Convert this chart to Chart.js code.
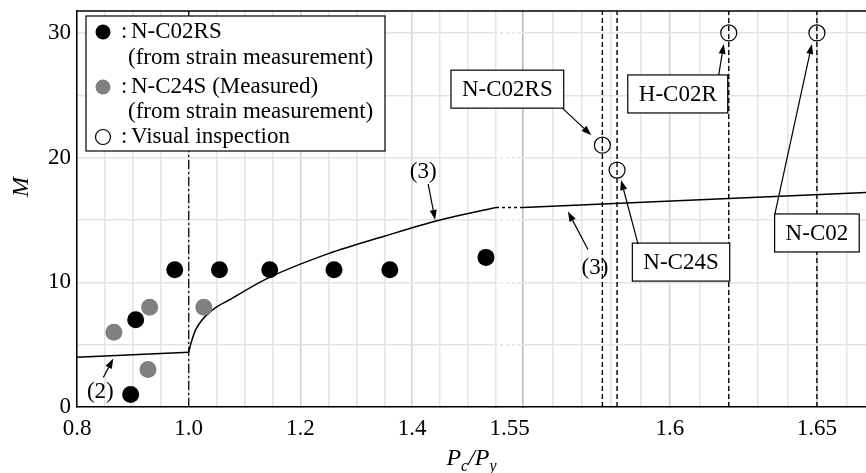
<!DOCTYPE html>
<html>
<head>
<meta charset="utf-8">
<script src="https://cdn.jsdelivr.net/npm/chart.js@4.4.1/dist/chart.umd.min.js"></script>
<style>
  html, body { margin: 0; padding: 0; background: #fff; }
  #wrap { width: 866px; height: 473px; }
</style>
</head>
<body>
<div id="wrap"><canvas id="chart" width="866" height="473"></canvas></div>
<script>
const SERIF = '"Liberation Serif", "Times New Roman", Times, serif';

// broken x axis: left part 0.8-1.55, right part 1.55-1.667
const gridA = [0.8, 0.85, 0.9, 0.95, 1.0, 1.05, 1.1, 1.15, 1.2, 1.25, 1.3, 1.35, 1.4, 1.45, 1.5, 1.55];
const gridB = [1.55, 1.56, 1.57, 1.58, 1.59, 1.6, 1.61, 1.62, 1.63, 1.64, 1.65, 1.66];
const xLabels = ['0.8', '1.0', '1.2', '1.4', '1.6', '1.65'];
const breakLabel = '1.55';
const yGrid = [0, 5, 10, 15, 20, 25, 30];
const yLabels = [0, 10, 20, 30];
const Y_MAX = 31.76;

// N-C02RS (from strain measurement)
const c02rsX = [0.896, 0.905, 0.975, 1.055, 1.145, 1.26, 1.36, 1.532];
const c02rsM = [1, 7, 11, 11, 11, 11, 11, 12];
// N-C24S (Measured)
const c24sX = [0.866, 0.927, 0.93, 1.027];
const c24sM = [6, 3, 8, 8];
// visual inspection
const visualNames = ['N-C02RS', 'N-C24S', 'H-C02R', 'N-C02'];
const visualX = [1.577, 1.582, 1.62, 1.65];
const visualM = [21, 19, 30, 30];

// eq. (2) and (3)
const line2X = [0.8, 1.0];
const line2M = [4.0, 4.4];
const curve3X = [1.0, 1.004, 1.0125, 1.043, 1.073, 1.14, 1.25, 1.35, 1.45, 1.55];
const curve3M = [4.4, 5.1, 6.2, 7.8, 8.6, 10.3, 12.3, 13.7, 15.0, 16.0];
const line3bX = [1.55, 1.6667];
const line3bM = [16.0, 17.2];

const toXY = (xs, ys) => xs.map((x, i) => ({ x: x, y: ys[i] }));

function interp(xs, ys, x) {
    for (let i = 0; i < xs.length - 1; i++) {
        if (x >= xs[i] && x <= xs[i + 1]) {
            return ys[i] + (ys[i + 1] - ys[i]) * (x - xs[i]) / (xs[i + 1] - xs[i]);
        }
    }
    return ys[ys.length - 1];
}

function xLabelFor(v) {
    const hit = xLabels.find(t => Math.abs(parseFloat(t) - v) < 1e-6);
    return hit || '';
}

function gridColor(v) {
    return xLabelFor(v) ? '#d2d2d2' : '#e4e4e4';
}

function noPad(s) {
    s.paddingLeft = 0;
    s.paddingRight = 0;
    s.paddingTop = 0;
    s.paddingBottom = 0;
}

function xAxis(min, max, weight, ticks, extra) {
    return Object.assign({
        type: 'linear',
        position: 'bottom',
        stack: 'x',
        stackWeight: weight,
        min: min,
        max: max,
        offset: false,
        afterBuildTicks: s => { s.ticks = ticks.map(v => ({ value: v })); },
        afterFit: s => { s.height = 66; noPad(s); },
        grid: {
            drawTicks: false,
            lineWidth: 1.5,
            color: ctx => gridColor(ctx.tick ? ctx.tick.value : null)
        },
        border: { color: '#000', width: 1.5 },
        ticks: {
            autoSkip: false, maxRotation: 0, minRotation: 0,
            padding: 8, color: '#000', font: { size: 23 },
            callback: v => xLabelFor(v)
        }
    }, extra || {});
}

// annotation boxes, offsets in px from the inspected point
const notes = [
    { at: 0, box: [-95, -56], from: [-40, -37], to: [-11, -10] },
    { at: 1, box: [64, 92], from: [21, 74], to: [4, 10] },
    { at: 2, box: [-51, 61], from: [-10, 42], to: [-5, 11] },
    { at: 3, box: [0, 200], from: [-42, 181], to: [-5, 11] }
];

// curve labels
const curveNotes = [
    { text: '(3)', axis: 'xA', x: 1.45, xs: curve3X, ys: curve3M, label: [-17, -48], from: [-12, -36], to: [-5, 0] },
    { text: '(3)', axis: 'xB', x: 1.5653, xs: line3bX, ys: line3bM, label: [27, 62], from: [20, 44], to: [0, 6] },
    { text: '(2)', axis: 'xA', x: 0.865, xs: line2X, ys: line2M, label: [-13, 36], from: [-10, 22], to: [0, 3] }
];

function arrow(ctx, x1, y1, x2, y2) {
    const a = Math.atan2(y2 - y1, x2 - x1);
    const L = 10, W = 3.5;
    const bx = x2 - L * Math.cos(a), by = y2 - L * Math.sin(a);
    ctx.beginPath();
    ctx.moveTo(x1, y1);
    ctx.lineTo(bx, by);
    ctx.stroke();
    ctx.beginPath();
    ctx.moveTo(x2, y2);
    ctx.lineTo(bx + W * Math.sin(a), by - W * Math.cos(a));
    ctx.lineTo(bx - W * Math.sin(a), by + W * Math.cos(a));
    ctx.closePath();
    ctx.fill();
}

const decor = {
    id: 'decor',
    beforeDatasetsDraw(chart) {
        // dotted gap on the horizontal grid
        const ctx = chart.ctx, g = chart.scales.xGap, y = chart.scales.y;
        ctx.save();
        ctx.strokeStyle = '#fff';
        ctx.lineWidth = 2;
        ctx.setLineDash([3, 3]);
        yGrid.slice(1).forEach(v => {
            const py = y.getPixelForValue(v);
            ctx.beginPath();
            ctx.moveTo(g.left + 1, py);
            ctx.lineTo(g.right - 1, py);
            ctx.stroke();
        });
        ctx.restore();
    },
    afterDatasetsDraw(chart) {
        const ctx = chart.ctx, area = chart.chartArea;
        const xB = chart.scales.xB, y = chart.scales.y;
        ctx.save();
        // top frame
        ctx.strokeStyle = '#000';
        ctx.lineWidth = 1.5;
        ctx.beginPath();
        ctx.moveTo(area.left, area.top);
        ctx.lineTo(area.right, area.top);
        ctx.stroke();

        ctx.font = '23px ' + SERIF;
        ctx.fillStyle = '#000';
        ctx.lineWidth = 1.2;
        ctx.textAlign = 'center';
        ctx.textBaseline = 'middle';

        notes.forEach(n => {
            const px = xB.getPixelForValue(visualX[n.at]);
            const py = y.getPixelForValue(visualM[n.at]);
            const txt = visualNames[n.at];
            const w = ctx.measureText(txt).width + 22, h = 38;
            const cx = px + n.box[0], cy = py + n.box[1];
            ctx.fillStyle = '#fff';
            ctx.fillRect(cx - w / 2, cy - h / 2, w, h);
            ctx.strokeRect(cx - w / 2, cy - h / 2, w, h);
            ctx.fillStyle = '#000';
            ctx.fillText(txt, cx, cy + 1);
            arrow(ctx, px + n.from[0], py + n.from[1], px + n.to[0], py + n.to[1]);
        });

        curveNotes.forEach(n => {
            const px = chart.scales[n.axis].getPixelForValue(n.x);
            const py = y.getPixelForValue(interp(n.xs, n.ys, n.x));
            ctx.fillText(n.text, px + n.label[0], py + n.label[1]);
            arrow(ctx, px + n.from[0], py + n.from[1], px + n.to[0], py + n.to[1]);
        });

        // legend
        ctx.fillStyle = '#fff';
        ctx.fillRect(86, 16, 299, 135);
        ctx.strokeRect(86, 16, 299, 135);
        const rows = [
            { y: 32, mark: '#000', text: 'N-C02RS' },
            { y: 58, text: '(from strain measurement)' },
            { y: 87, mark: '#808080', text: 'N-C24S (Measured)' },
            { y: 112, text: '(from strain measurement)' },
            { y: 137, mark: 'open', text: 'Visual inspection' }
        ];
        ctx.textAlign = 'left';
        rows.forEach(r => {
            ctx.fillStyle = '#000';
            if (r.mark) {
                ctx.beginPath();
                ctx.arc(103, r.y, 7.5, 0, Math.PI * 2);
                if (r.mark === 'open') {
                    ctx.stroke();
                } else {
                    ctx.fillStyle = r.mark;
                    ctx.fill();
                    ctx.fillStyle = '#000';
                }
                ctx.fillText(':', 121, r.y);
                ctx.fillText(r.text, 131, r.y);
            } else {
                ctx.fillText(r.text, 128, r.y);
            }
        });
        ctx.restore();
    },
    afterDraw(chart) {
        const ctx = chart.ctx, area = chart.chartArea;
        ctx.save();
        ctx.fillStyle = '#000';
        ctx.textBaseline = 'alphabetic';
        // x title P_c / P_y
        const parts = [
            { t: 'P', s: 24, dy: 0 }, { t: 'c', s: 16, dy: 6 },
            { t: '/', s: 24, dy: 0 },
            { t: 'P', s: 24, dy: 0 }, { t: 'y', s: 16, dy: 6 }
        ];
        let total = 0;
        parts.forEach(p => {
            ctx.font = 'italic ' + p.s + 'px ' + SERIF;
            p.w = ctx.measureText(p.t).width;
            total += p.w;
        });
        let x = (area.left + area.right) / 2 - total / 2;
        parts.forEach(p => {
            ctx.font = 'italic ' + p.s + 'px ' + SERIF;
            ctx.fillText(p.t, x, 465 + p.dy);
            x += p.w;
        });
        // y title
        ctx.font = 'italic 24px ' + SERIF;
        ctx.textAlign = 'center';
        ctx.textBaseline = 'middle';
        ctx.translate(22, 187);
        ctx.rotate(-Math.PI / 2);
        ctx.fillText('M', 0, 0);
        ctx.restore();
    }
};

Chart.defaults.font.family = SERIF;
Chart.defaults.color = '#000';

new Chart(document.getElementById('chart'), {
    type: 'scatter',
    data: {
        datasets: [
            {
                label: 'N-C02RS', xAxisID: 'xA', data: toXY(c02rsX, c02rsM),
                pointRadius: 8.5, pointBackgroundColor: '#000', pointBorderWidth: 0
            },
            {
                label: 'N-C24S (Measured)', xAxisID: 'xA', data: toXY(c24sX, c24sM),
                pointRadius: 8.5, pointBackgroundColor: '#808080', pointBorderWidth: 0
            },
            {
                label: 'Visual inspection', xAxisID: 'xB', data: toXY(visualX, visualM),
                pointRadius: 8, pointBackgroundColor: 'rgba(0,0,0,0)',
                pointBorderColor: '#000', pointBorderWidth: 1.2
            },
            {
                label: 'inspection lines', type: 'line', xAxisID: 'xB',
                data: visualX.flatMap(x => [{ x: x, y: 0 }, { x: x, y: Y_MAX }, { x: x, y: null }]),
                borderColor: '#000', borderWidth: 1.4, borderDash: [5, 3],
                pointRadius: 0, spanGaps: false, tension: 0
            },
            {
                label: 'Pc/Py = 1', type: 'line', xAxisID: 'xA',
                data: [{ x: 1.0, y: 0 }, { x: 1.0, y: Y_MAX }],
                borderColor: '#000', borderWidth: 1.2, borderDash: [9, 3, 2, 3],
                pointRadius: 0, tension: 0
            },
            {
                label: '(2)', type: 'line', xAxisID: 'xA', data: toXY(line2X, line2M),
                borderColor: '#000', borderWidth: 1.5, pointRadius: 0, tension: 0
            },
            {
                label: '(3)', type: 'line', xAxisID: 'xA', data: toXY(curve3X, curve3M),
                borderColor: '#000', borderWidth: 1.5, pointRadius: 0,
                cubicInterpolationMode: 'monotone'
            },
            {
                label: 'break', type: 'line', xAxisID: 'xGap',
                data: [{ x: 0, y: line3bM[0] }, { x: 1, y: line3bM[0] }],
                borderColor: '#000', borderWidth: 1.5, borderDash: [3, 3], pointRadius: 0, tension: 0
            },
            {
                label: '(3) right', type: 'line', xAxisID: 'xB', data: toXY(line3bX, line3bM),
                borderColor: '#000', borderWidth: 1.5, pointRadius: 0, tension: 0
            }
        ]
    },
    options: {
        responsive: false,
        devicePixelRatio: 1,
        animation: false,
        layout: { autoPadding: false, padding: { top: 11, left: 0, right: 0, bottom: 0 } },
        plugins: { legend: { display: false }, tooltip: { enabled: false } },
        scales: {
            xA: xAxis(0.8, 1.55, 419, gridA, { weight: 1 }),
            xGap: xAxis(0, 1, 27, [0.5], {
                weight: 2,
                grid: { display: false, drawTicks: false },
                ticks: {
                    autoSkip: false, maxRotation: 0, minRotation: 0,
                    padding: 8, color: '#000', font: { size: 23 },
                    callback: () => breakLabel
                }
            }),
            xB: xAxis(1.55, 1.6667, 343, gridB, {
                weight: 3,
                grid: {
                    drawTicks: false, lineWidth: 1.5,
                    color: ctx => (ctx.tick && ctx.tick.value === 1.55) ? '#b8b8b8' : gridColor(ctx.tick ? ctx.tick.value : null)
                }
            }),
            y: {
                type: 'linear', position: 'left', min: 0, max: Y_MAX,
                afterBuildTicks: s => { s.ticks = yGrid.map(v => ({ value: v })); },
                afterFit: s => { s.width = 77; noPad(s); },
                grid: { drawTicks: false, lineWidth: 1.5, color: '#e4e4e4' },
                border: { color: '#000', width: 1.5 },
                ticks: {
                    padding: 6, color: '#000', font: { size: 23 },
                    callback: v => yLabels.includes(v) ? String(v) : ''
                }
            }
        }
    },
    plugins: [decor]
});
</script>
</body>
</html>
